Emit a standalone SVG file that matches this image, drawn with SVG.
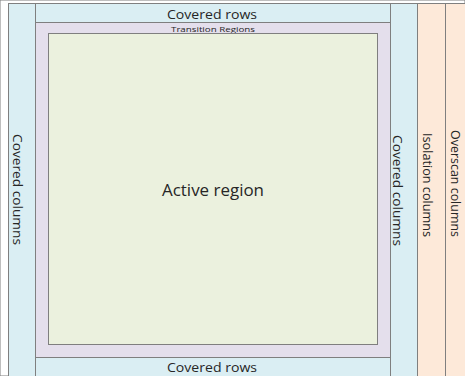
<svg xmlns="http://www.w3.org/2000/svg" width="465" height="376" viewBox="0 0 465 376">
<style>
rect{stroke:#7f7f7f;stroke-width:1}
.blue{fill:#daeef3}
.purple{fill:#e4dfec}
.green{fill:#ebf1de}
.orange{fill:#fde9d9}
text{font-family:"Open Sans","Liberation Sans",sans-serif;fill:#262626}
.lbl{font-size:12.5px}
</style>
<rect x="0" y="0" width="465" height="376" fill="#ffffff" stroke="none"/>
<g id="covered-columns-left">
<rect class="blue" x="8.5" y="3.5" width="27" height="380"/>
<text class="lbl" transform="translate(13,134) rotate(90)" textLength="111" lengthAdjust="spacingAndGlyphs">Covered columns</text>
</g>
<g id="covered-rows-top">
<rect class="blue" x="35.5" y="3.5" width="355" height="19"/>
<text class="lbl" x="212" y="18.5" text-anchor="middle" textLength="90" lengthAdjust="spacingAndGlyphs">Covered rows</text>
</g>
<g id="transition-regions">
<rect class="purple" x="35.5" y="22.5" width="355" height="335"/>
<text x="213" y="31.5" text-anchor="middle" font-size="8" textLength="84" lengthAdjust="spacingAndGlyphs">Transition Regions</text>
</g>
<g id="active-region">
<rect class="green" x="48.5" y="33.5" width="329" height="311"/>
<text x="213" y="196" text-anchor="middle" font-size="17" textLength="102" lengthAdjust="spacingAndGlyphs">Active region</text>
</g>
<g id="covered-rows-bottom">
<rect class="blue" x="35.5" y="357.5" width="355" height="30"/>
<text class="lbl" x="212" y="372" text-anchor="middle" textLength="90" lengthAdjust="spacingAndGlyphs">Covered rows</text>
</g>
<g id="covered-columns-right">
<rect class="blue" x="390.5" y="3.5" width="27" height="380"/>
<text class="lbl" transform="translate(393,135) rotate(90)" textLength="111" lengthAdjust="spacingAndGlyphs">Covered columns</text>
</g>
<g id="isolation-columns">
<rect class="orange" x="417.5" y="3.5" width="28" height="380"/>
<text class="lbl" transform="translate(423,133) rotate(90)" textLength="104" lengthAdjust="spacingAndGlyphs">Isolation columns</text>
</g>
<g id="overscan-columns">
<rect class="orange" x="445.5" y="3.5" width="25" height="380"/>
<text class="lbl" transform="translate(451,130) rotate(90)" textLength="107" lengthAdjust="spacingAndGlyphs">Overscan columns</text>
</g>
<g id="connectors"/>
</svg>
